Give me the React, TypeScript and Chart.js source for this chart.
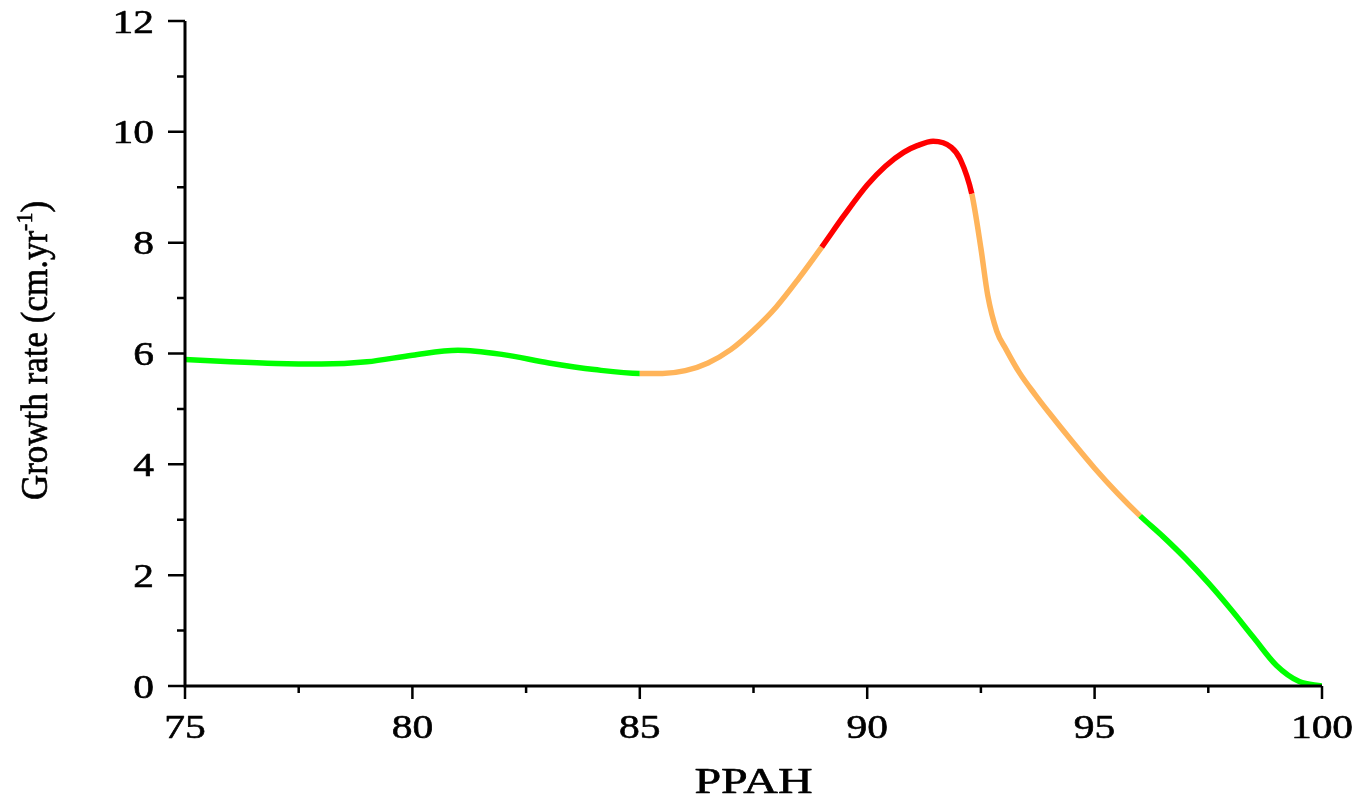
import React, { useEffect, useRef } from "react";
import { Chart, registerables } from "chart.js";

Chart.register(...registerables);

// PPAH values (x) and growth rate values (y, cm.yr-1)
const ppah = [
  75, 76, 77, 78, 79, 80, 81, 82, 83, 84, 85,
  85.5, 86, 86.5, 87, 87.5, 88, 88.5, 89,
  89.5, 90, 90.4, 90.8, 91.1, 91.45, 91.85, 92.05, 92.3,
  92.5, 92.65, 92.85, 93.05, 93.35, 93.7, 94, 94.5, 95, 95.5, 96,
  96.5, 97, 97.5, 98, 98.5, 99, 99.5, 100,
];
const growthRate = [
  5.89, 5.85, 5.82, 5.81, 5.85, 5.97, 6.06, 5.98, 5.83, 5.71, 5.64,
  5.64, 5.69, 5.83, 6.07, 6.42, 6.84, 7.36, 7.92,
  8.5, 9.04, 9.38, 9.63, 9.75, 9.83, 9.72, 9.5, 8.88,
  7.9, 7.05, 6.4, 6.08, 5.65, 5.25, 4.93, 4.42, 3.93, 3.48, 3.07,
  2.7, 2.3, 1.86, 1.38, 0.87, 0.37, 0.08, 0,
];

// colour zones along PPAH (upper bound of each zone)
const zoneEnds = [85, 89, 92.3, 96, 100];
const zoneColors = ["#00ff00", "#ffb45a", "#ff0000", "#ffb45a", "#00ff00"];

const xTicks = [75, 80, 85, 90, 95, 100];
const xTickLabels = ["75", "80", "85", "90", "95", "100"];
const xMinorTicks = [77.5, 82.5, 87.5, 92.5, 97.5];
const yTicks = [0, 2, 4, 6, 8, 10, 12];
const yTickLabels = ["0", "2", "4", "6", "8", "10", "12"];
const yMinorTicks = [1, 3, 5, 7, 9, 11];

const xTitle = "PPAH";
const yTitleMain = "Growth rate (cm.yr";
const yTitleSup = "-1";
const yTitleEnd = ")";

const FONT = '"Liberation Serif", "Times New Roman", serif';

function zoneColor(x: number): string {
  for (let i = 0; i < zoneEnds.length; i++) {
    if (x < zoneEnds[i] - 1e-9) return zoneColors[i];
  }
  return zoneColors[zoneColors.length - 1];
}

function boldText(ctx: CanvasRenderingContext2D, t: string, x: number, y: number) {
  ctx.fillText(t, x, y);
  ctx.strokeText(t, x, y);
}

const axesPlugin = {
  id: "originAxes",
  afterDatasetsDraw(chart: any) {
    const ctx = chart.ctx as CanvasRenderingContext2D;
    const xs = chart.scales.x;
    const ys = chart.scales.y;
    const area = chart.chartArea;
    ctx.save();
    ctx.strokeStyle = "#000";
    ctx.fillStyle = "#000";
    ctx.lineCap = "butt";

    // axis lines
    ctx.lineWidth = 3;
    ctx.beginPath();
    ctx.moveTo(area.left, area.top);
    ctx.lineTo(area.left, area.bottom + 1.5);
    ctx.moveTo(area.left - 1.5, area.bottom);
    ctx.lineTo(area.right, area.bottom);
    ctx.stroke();

    // ticks
    ctx.lineWidth = 2.5;
    ctx.beginPath();
    yTicks.forEach((v) => {
      const py = ys.getPixelForValue(v);
      ctx.moveTo(area.left - 17, py);
      ctx.lineTo(area.left, py);
    });
    yMinorTicks.forEach((v) => {
      const py = ys.getPixelForValue(v);
      ctx.moveTo(area.left - 8, py);
      ctx.lineTo(area.left, py);
    });
    xTicks.forEach((v) => {
      const px = xs.getPixelForValue(v);
      ctx.moveTo(px, area.bottom);
      ctx.lineTo(px, area.bottom + 13);
    });
    xMinorTicks.forEach((v) => {
      const px = xs.getPixelForValue(v);
      ctx.moveTo(px, area.bottom);
      ctx.lineTo(px, area.bottom + 7);
    });
    ctx.stroke();

    ctx.lineWidth = 0.6;
    ctx.lineJoin = "round";

    // tick labels
    const tickSize = 34;
    const sx = 1.22;
    ctx.font = `${tickSize}px ${FONT}`;
    ctx.textBaseline = "alphabetic";
    ctx.textAlign = "center";
    xTicks.forEach((v, i) => {
      const px = xs.getPixelForValue(v);
      ctx.save();
      ctx.translate(px, area.bottom + 52);
      ctx.scale(sx, 1);
      boldText(ctx, xTickLabels[i], 0, 0);
      ctx.restore();
    });
    ctx.textAlign = "right";
    yTicks.forEach((v, i) => {
      const py = ys.getPixelForValue(v);
      ctx.save();
      ctx.translate(area.left - 31, py + 11.5);
      ctx.scale(sx, 1);
      boldText(ctx, yTickLabels[i], 0, 0);
      ctx.restore();
    });

    // x title
    ctx.save();
    ctx.font = `35px ${FONT}`;
    ctx.textAlign = "center";
    ctx.translate((area.left + area.right) / 2, 793);
    ctx.scale(1.37, 1);
    boldText(ctx, xTitle, 0, 0);
    ctx.restore();

    // y title (rotated, with superscript)
    ctx.save();
    const mainFont = `35px ${FONT}`;
    const supFont = `22px ${FONT}`;
    ctx.font = mainFont;
    const w1 = ctx.measureText(yTitleMain).width;
    const w3 = ctx.measureText(yTitleEnd).width;
    ctx.font = supFont;
    const w2 = ctx.measureText(yTitleSup).width;
    const total = w1 + w2 + w3;
    ctx.translate(47, (area.top + area.bottom) / 2 - 3);
    ctx.rotate(-Math.PI / 2);
    ctx.scale(1, 1.08);
    ctx.textAlign = "left";
    let cx = -total / 2;
    ctx.font = mainFont;
    boldText(ctx, yTitleMain, cx, 0);
    cx += w1;
    ctx.font = supFont;
    boldText(ctx, yTitleSup, cx, -14);
    cx += w2;
    ctx.font = mainFont;
    boldText(ctx, yTitleEnd, cx, 0);
    ctx.restore();

    ctx.restore();
  },
};

export default function App() {
  const canvasRef = useRef<HTMLCanvasElement | null>(null);

  useEffect(() => {
    const canvas = canvasRef.current;
    if (!canvas) return;
    const data = ppah.map((x, i) => ({ x, y: growthRate[i] }));
    const chart = new Chart(canvas, {
      type: "line",
      data: {
        datasets: [
          {
            data,
            borderWidth: 5.5,
            borderColor: "#00ff00",
            pointRadius: 0,
            fill: false,
            cubicInterpolationMode: "monotone",
            segment: {
              borderColor: (c: any) => zoneColor(c.p0.parsed.x),
            },
          } as any,
        ],
      },
      options: {
        animation: false,
        responsive: false,
        devicePixelRatio: 1,
        layout: { padding: { left: 185, right: 41, top: 21, bottom: 113 } },
        plugins: {
          legend: { display: false },
          tooltip: { enabled: false },
        },
        scales: {
          x: { type: "linear", min: 75, max: 100, display: false },
          y: { type: "linear", min: 0, max: 12, display: false },
        },
      },
      plugins: [axesPlugin],
    });
    return () => chart.destroy();
  }, []);

  return (
    <div style={{ position: "fixed", left: 0, top: 0, width: 1363, height: 799, background: "#fff" }}>
      <canvas ref={canvasRef} width={1363} height={799} style={{ display: "block" }} />
    </div>
  );
}
